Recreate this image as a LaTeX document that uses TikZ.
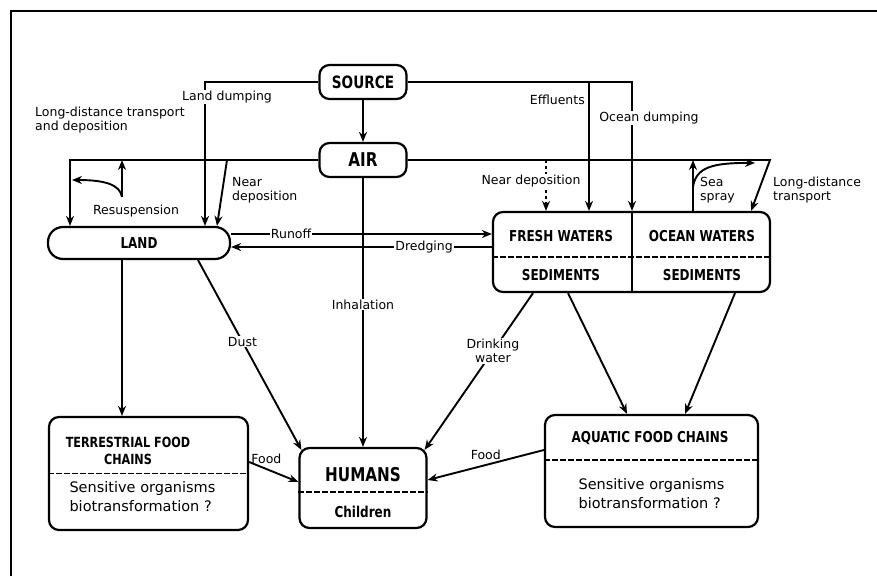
\documentclass[tikz,border=0pt]{standalone}
\usepackage{fontspec}
\setmainfont{DejaVu Sans}
\newfontfamily\boxfont[FakeStretch=0.8]{DejaVu Sans}
\usetikzlibrary{arrows.meta,positioning,calc}
\tikzset{>={Stealth[length=10pt,width=8pt]}, % filled arrow heads
        box/.style={ % compartments with rounded corners
            draw, line width=2.2pt, rounded corners=10pt, inner sep=0pt},
        flow/.style={ % transfer paths
            draw, ->, line width=1.9pt},
        divider/.style={ % dashed line inside a box
            line width=1.5pt, dash pattern=on 6pt off 2pt},
        lbl/.style={font=\fontsize{12.5}{14}\selectfont, inner sep=1pt},
        lblw/.style={lbl, fill=white},
        big/.style={font=\boxfont\bfseries\fontsize{15}{18}\selectfont},
        body/.style={font=\fontsize{14.5}{19}\selectfont, align=left}
        }

\begin{document}
\begin{tikzpicture}[x=1pt, y=-1pt]
    \useasboundingbox (0,0) rectangle (877,576);
    \draw[line width=1.5pt] (11,576) -- (11,11) -- (877,11);

    % compartments
    \node[box, minimum width=87pt, minimum height=34pt, font=\boxfont\bfseries\fontsize{17}{18}\selectfont] (source) at (363,82) {SOURCE};
    \node[box, minimum width=87pt, minimum height=34pt, font=\boxfont\bfseries\fontsize{19}{20}\selectfont] (air) at (363,160) {AIR};
    \node[box, rounded corners=15pt, minimum width=182pt, minimum height=32pt, big] (land) at (139,243) {LAND};

    \node[box, minimum width=277pt, minimum height=80pt] (waters) at (631.5,252) {};
    \node[big] (fresh) at (561,236) {FRESH WATERS};
    \node[big] (ocean) at (702,236) {OCEAN WATERS};
    \node[big] (sedfresh) at (561,275) {SEDIMENTS};
    \node[big] (sedocean) at (702,275) {SEDIMENTS};
    \draw[divider] ($(waters.west)+(0,5)$) -- ($(waters.east)+(0,5)$);

    \node[box, minimum width=199pt, minimum height=113pt] (terr) at (148.5,473.5) {};
    \node[big, font=\boxfont\bfseries\fontsize{14}{17}\selectfont, align=center] (terrtitle) at (128,451) {TERRESTRIAL FOOD\\CHAINS};
    \node[body, anchor=west] (terrbody) at (66,497) {Sensitive organisms\\biotransformation ?};
    \draw[divider] (terr.west) -- (terr.east);

    \node[box, minimum width=127pt, minimum height=80pt] (humans) at (363,488) {};
    \node[font=\boxfont\bfseries\fontsize{19}{20}\selectfont] (humtitle) at (363,475) {HUMANS};
    \node[big] (children) at (363,512) {Children};
    \draw[divider] ($(humans.west)+(0,4)$) -- ($(humans.east)+(0,4)$);

    \node[box, minimum width=213pt, minimum height=112pt] (aquatic) at (651.5,471) {};
    \node[big] (aqtitle) at (650,438) {AQUATIC FOOD CHAINS};
    \node[body, anchor=west] (aqbody) at (575,494) {Sensitive organisms\\biotransformation ?};
    \draw[divider] ($(aquatic.west)+(0,-11)$) -- ($(aquatic.east)+(0,-11)$);

    % releases from the source
    \coordinate (ldump) at (205,82);
    \coordinate (effl) at (589,82);
    \coordinate (odump) at (632,82);
    \draw[flow] (source.west) -- (ldump) -- (ldump |- land.north);
    \draw[flow] (source.east) -- (odump) -- (odump |- waters.north);
    \draw[line width=1.9pt] (odump |- waters.north) -- (odump |- waters.south);
    \draw[flow] (effl) -- (effl |- waters.north);
    \draw[flow] (source) -- (air);

    % atmospheric transport
    \coordinate (ltop) at (70,160);
    \coordinate (rtop) at (770,160);
    \draw[flow] (air.west) -- (ltop) -- (ltop |- land.north);
    \draw[flow] (air.east) -- (rtop) -- ($(waters.north east)+(-20,0)$);
    \coordinate (nearl) at (227,160);
    \draw[flow] (nearl) -- ($(land.north)+(78,0)$);
    \coordinate (nearw) at (546,160);
    \draw[flow, dashed] (nearw) -- (nearw |- waters.north);

    \coordinate (resus) at (122,197);
    \draw[flow] (resus) -- (resus |- air);
    \draw[flow] (resus) .. controls (120,185) and (106,180) .. (72,180);

    \coordinate (spray) at ($(waters.north)+(61.5,0)$);
    \draw[flow] (spray) -- (spray |- air);
    \draw[flow] ($(spray)+(0,-24)$) .. controls ($(spray)+(3,-44)$) and ($(spray)+(20,-48)$) .. ($(spray)+(62,-48)$);

    % land and water exchange
    \coordinate (runoff) at ($(land.east)+(0,-9)$);
    \coordinate (dredge) at ($(land.east)+(0,4)$);
    \draw[flow] (runoff) -- (runoff -| waters.west) node[lblw, pos=0.23] {Runoff};
    \draw[flow] (dredge -| waters.west) -- (dredge) node[lblw, pos=0.26] {Dredging};

    % pathways to food chains and humans
    \coordinate (landterr) at ($(land.south)+(-17,0)$);
    \draw[flow] (landterr) -- (landterr |- terr.north);
    \draw[flow] ($(land.south)+(59,0)$) -- ($(humans.north west)+(3,3)$) node[lblw, pos=0.43] {Dust};
    \draw[flow] (air) -- (humans) node[lblw, pos=0.47] {Inhalation};
    \draw[flow] ($(terr.east)+(0,-11.5)$) -- ($(humans.west)+(0,-6)$) node[lbl, pos=0.35, above=3pt] {Food};
    \draw[flow] ($(waters.south)+(-98.5,0)$) -- ($(humans.north east)+(-3,3)$) node[lblw, pos=0.37, align=center] {Drinking\\water};
    \draw[flow] ($(waters.south)+(-63.5,0)$) -- ($(aquatic.north)+(-24.5,0)$);
    \draw[flow] ($(waters.south)+(103.5,0)$) -- ($(aquatic.north)+(33.5,0)$);
    \draw[flow] ($(aquatic.west)+(0,-21)$) -- ($(humans.east)+(0,-8)$) node[lbl, pos=0.5, above=3pt] {Food};

    % labels
    \node[lblw] (ldlbl) at (227,97) {Land dumping};
    \node[lbl, anchor=west, align=left] (ltlbl) at (34,120) {Long-distance transport\\and deposition};
    \node[lbl, anchor=east] (efflbl) at (586,100) {Effluents};
    \node[lblw] (odlbl) at (649,118) {Ocean dumping};
    \node[lbl, anchor=west, align=left] (nearllbl) at (231,190) {Near\\deposition};
    \node[lblw] (nearwlbl) at (531,181) {Near deposition};
    \node[lbl] (reslbl) at (136,211) {Resuspension};
    \node[lbl, anchor=west, align=left] (spraylbl) at (699,190) {Sea\\spray};
    \node[lbl, anchor=west, align=left] (lrlbl) at (772,190) {Long-distance\\transport};
\end{tikzpicture}
\end{document}
